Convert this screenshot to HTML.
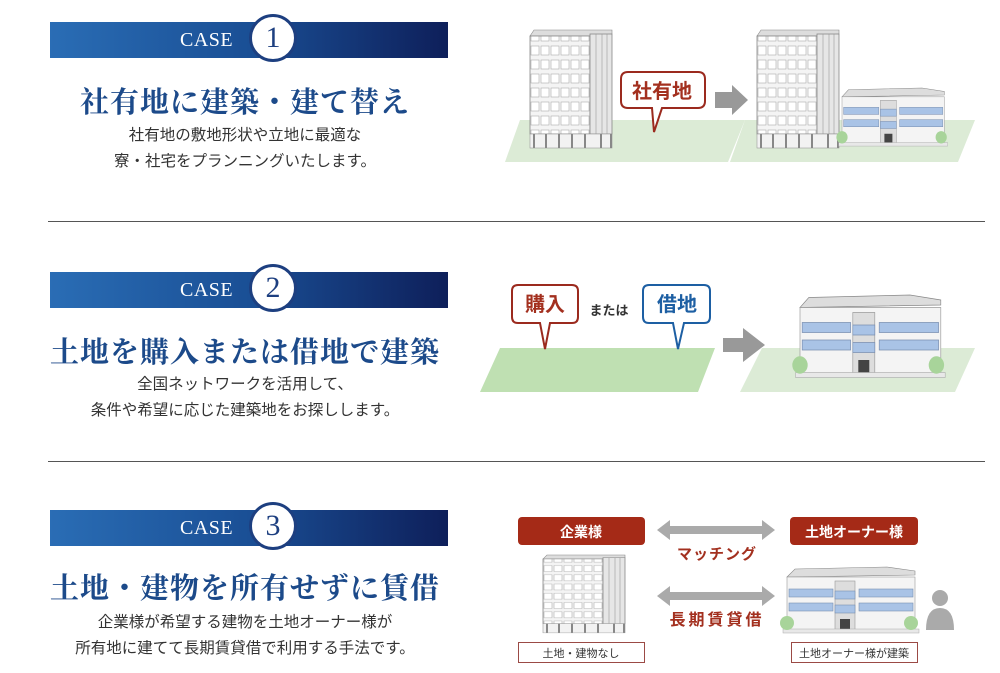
<!DOCTYPE html>
<html><head><meta charset="utf-8"><style>
body{margin:0;width:1000px;height:673px;background:#fff;overflow:hidden;position:relative;font-family:"Liberation Serif","Noto Serif CJK SC",serif}
.ban{position:absolute;left:50px;width:398px;height:36px;background:linear-gradient(90deg,#2a6db5,#1a4f95 50%,#0e1f5a)}
.case{position:absolute;left:130px;top:7px;color:#fff;font-size:20px;letter-spacing:0.5px}
.circ{position:absolute;left:199px;top:-8px;width:42px;height:42px;border-radius:50%;background:#fff;border:3px solid #1d3f80;color:#1d3f80;font-size:30px;text-align:center;line-height:42px}
.ttl{position:absolute;left:0;width:490px;text-align:center;color:#1c4a8a;font-size:29px;font-weight:bold;font-family:"Noto Serif CJK SC",serif;letter-spacing:1px}
.txt{position:absolute;left:0;width:490px;text-align:center;color:#333;font-size:15.5px;line-height:26px;font-family:"Liberation Sans","Noto Sans CJK JP",sans-serif}
.hr{position:absolute;left:48px;width:937px;height:1px;background:#555}
svg{position:absolute;left:0;top:0}
</style></head><body>
<div class="ban" style="top:22px"><div class="case">CASE</div><div class="circ">1</div></div>
<div class="ttl" style="top:80px">社有地に建築・建て替え</div>
<div class="txt" style="top:123px">社有地の敷地形状や立地に最適な<br>寮・社宅をプランニングいたします。</div>
<div class="hr" style="top:221px"></div>
<div class="ban" style="top:272px"><div class="case">CASE</div><div class="circ">2</div></div>
<div class="ttl" style="top:330px">土地を購入または借地で建築</div>
<div class="txt" style="top:372px">全国ネットワークを活用して、<br>条件や希望に応じた建築地をお探しします。</div>
<div class="hr" style="top:461px"></div>
<div class="ban" style="top:510px"><div class="case">CASE</div><div class="circ">3</div></div>
<div class="ttl" style="top:566px">土地・建物を所有せずに賃借</div>
<div class="txt" style="top:610px">企業様が希望する建物を土地オーナー様が<br>所有地に建てて長期賃貸借で利用する手法です。</div>

<svg width="1000" height="673" font-family="Liberation Sans,Noto Sans CJK JP,sans-serif">
<defs>
<pattern id="win" width="10" height="14" patternUnits="userSpaceOnUse"><rect width="10" height="14" fill="#f4f4f4"/><rect x="1" y="2" width="8" height="9" fill="#fff" stroke="#aaa" stroke-width="0.6"/></pattern>
<g id="tall">
<polygon points="0,6 4,0 82,0 82,4 60,6" fill="#ddd" stroke="#888" stroke-width="0.6"/>
<rect x="0" y="6" width="60" height="98" fill="url(#win)" stroke="#888" stroke-width="0.8"/>
<rect x="60" y="4" width="22" height="100" fill="#e6e6e6" stroke="#888" stroke-width="0.8"/>
<g stroke="#999" stroke-width="0.6"><line x1="66" y1="4" x2="66" y2="104"/><line x1="72" y1="4" x2="72" y2="104"/><line x1="77" y1="4" x2="77" y2="104"/></g>
<rect x="0" y="104" width="82" height="14" fill="#f2f2f2" stroke="#999" stroke-width="0.6"/>
<g fill="#888"><rect x="3" y="104" width="2" height="14"/><rect x="15" y="104" width="2" height="14"/><rect x="28" y="104" width="2" height="14"/><rect x="41" y="104" width="2" height="14"/><rect x="54" y="104" width="2" height="14"/><rect x="70" y="104" width="2" height="14"/><rect x="80" y="104" width="2" height="14"/></g>
</g>
<g id="low">
<polygon points="0,10 8,2 100,0 128,4 128,8 0,10" fill="#ddd" stroke="#888" stroke-width="0.6"/>
<rect x="0" y="10" width="128" height="54" fill="#f4f4f4" stroke="#999" stroke-width="0.6"/>
<rect x="48" y="14" width="20" height="50" fill="#ddd" stroke="#999" stroke-width="0.6"/>
<g fill="#a9c3e6" stroke="#7a8fb0" stroke-width="0.6"><rect x="2" y="22" width="44" height="8"/><rect x="2" y="36" width="44" height="8"/><rect x="48" y="24" width="20" height="8"/><rect x="48" y="38" width="20" height="8"/><rect x="72" y="22" width="54" height="8"/><rect x="72" y="36" width="54" height="8"/></g>
<rect x="53" y="52" width="10" height="12" fill="#444"/>
<rect x="-4" y="62" width="136" height="4" fill="#e8e8e8" stroke="#aaa" stroke-width="0.5"/>
<circle cx="0" cy="56" r="7" fill="#a8d49a"/><circle cx="124" cy="56" r="7" fill="#a8d49a"/>
</g>
</defs>
<!-- case1 -->
<polygon points="520,120 745,120 728,162 505,162" fill="#dcebd6"/>
<use href="#tall" x="530" y="30"/>
<path d="M628,72 h70 q7,0 7,7 v22 q0,7 -7,7 h-36 l-8,24 l-2,-24 h-24 q-7,0 -7,-7 v-22 q0,-7 7,-7z" fill="#fff" stroke="#9b2a1e" stroke-width="2"/>
<text x="662" y="98" text-anchor="middle" fill="#a3301f" font-size="20" font-weight="bold">社有地</text>
<polygon points="715,92 732,92 732,85 748,100 732,115 732,108 715,108" fill="#999"/>
<polygon points="745,120 975,120 958,162 730,162" fill="#dcebd6"/>
<use href="#tall" x="757" y="30"/>
<g transform="translate(842,88) scale(0.8,0.88)"><use href="#low"/></g>
<!-- case2 -->
<polygon points="500,348 715,348 698,392 480,392" fill="#bfe0b2"/>
<path d="M518,285 h54 q6,0 6,6 v26 q0,6 -6,6 h-22 l-5,26 l-5,-26 h-22 q-6,0 -6,-6 v-26 q0,-6 6,-6z" fill="#fff" stroke="#9b2a1e" stroke-width="2"/>
<text x="545" y="311" text-anchor="middle" fill="#a3301f" font-size="20" font-weight="bold">購入</text>
<text x="609" y="315" text-anchor="middle" fill="#333" font-size="13" font-weight="bold">または</text>
<path d="M649,285 h55 q6,0 6,6 v26 q0,6 -6,6 h-20 l-6,26 l-5,-26 h-24 q-6,0 -6,-6 v-26 q0,-6 6,-6z" fill="#fff" stroke="#1d5fa3" stroke-width="2"/>
<text x="677" y="311" text-anchor="middle" fill="#1d5fa3" font-size="20" font-weight="bold">借地</text>
<polygon points="723,338 743,338 743,328 765,345 743,362 743,352 723,352" fill="#999"/>
<polygon points="762,348 975,348 955,392 740,392" fill="#dcebd6"/>
<g transform="translate(800,295) scale(1.1,1.25)"><use href="#low"/></g>
<!-- case3 -->
<rect x="518" y="517" width="127" height="28" rx="4" fill="#a52a17"/>
<text x="581" y="537" text-anchor="middle" fill="#fff" font-size="14" font-weight="bold">企業様</text>
<rect x="790" y="517" width="128" height="28" rx="4" fill="#a52a17"/>
<text x="854" y="537" text-anchor="middle" fill="#fff" font-size="14" font-weight="bold">土地オーナー様</text>
<polygon points="657,530 670,520 670,526 762,526 762,520 775,530 762,540 762,534 670,534 670,540" fill="#aaa"/>
<polygon points="657,596 670,586 670,592 762,592 762,586 775,596 762,606 762,600 670,600 670,606" fill="#aaa"/>
<text x="717" y="559" text-anchor="middle" fill="#a3301f" font-size="15" font-weight="bold" letter-spacing="1">マッチング</text>
<text x="717" y="625" text-anchor="middle" fill="#a3301f" font-size="16" font-weight="bold" letter-spacing="3">長期賃貸借</text>
<g transform="translate(543,555) scale(1,0.66)"><use href="#tall"/></g>
<use href="#low" x="787" y="567"/>
<circle cx="940" cy="598" r="8" fill="#aaa"/><path d="M926,630 q0,-22 14,-22 q14,0 14,22z" fill="#aaa"/>
<rect x="518.5" y="642.5" width="126" height="20" fill="#fff" stroke="#9b4a45"/>
<text x="581" y="657" text-anchor="middle" fill="#333" font-size="11">土地・建物なし</text>
<rect x="791.5" y="642.5" width="126" height="20" fill="#fff" stroke="#9b4a45"/>
<text x="854" y="657" text-anchor="middle" fill="#333" font-size="11">土地オーナー様が建築</text>
</svg>
</body></html>
